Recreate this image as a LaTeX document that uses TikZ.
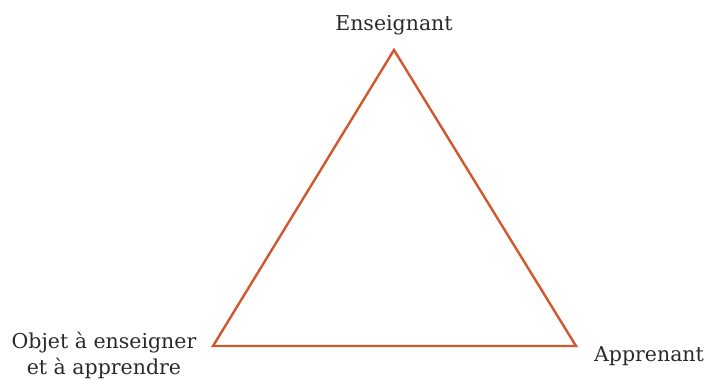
\documentclass[tikz,border=0pt]{standalone}
\usepackage{fontspec}
\setmainfont{DejaVu Serif}
\definecolor{tri}{HTML}{D0582C}
\definecolor{txt}{HTML}{2A2A2A}
\begin{document}
\begin{tikzpicture}[x=1pt,y=-1pt,
  lbl/.style={text=txt,font=\fontsize{20.5}{26}\selectfont,inner sep=0pt,align=center},
  edge/.style={draw=tri,line width=2.4pt,line join=miter}]
\useasboundingbox (0,0) rectangle (715,380);
\coordinate (T) at (394,50);
\coordinate (L) at (213,346);
\coordinate (R) at (576,346);
\draw[edge] (T) -- (L) -- (R) -- cycle;
\node[lbl] (ens) at (394,25) {Enseignant};
\node[lbl] (obj) at (104,355) {Objet à enseigner\\et à apprendre};
\node[lbl] (app) at (649,356) {Apprenant};
\end{tikzpicture}
\end{document}
